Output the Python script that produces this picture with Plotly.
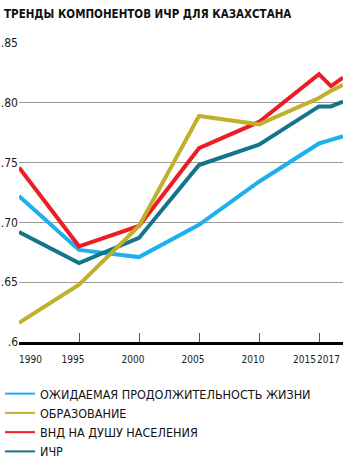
import plotly.graph_objects as go

# Kazakhstan HDI component indices
years = [1990, 1995, 2000, 2005, 2010, 2015, 2016, 2017]
life_expectancy = [0.722, 0.677, 0.671, 0.698, 0.734, 0.766, 0.769, 0.772]
education = [0.616, 0.648, 0.697, 0.789, 0.782, 0.804, 0.810, 0.815]
gni_per_capita = [0.746, 0.680, 0.697, 0.762, 0.784, 0.824, 0.814, 0.821]
hdi = [0.692, 0.666, 0.687, 0.748, 0.765, 0.797, 0.797, 0.801]

x_tick_years = [1990, 1995, 2000, 2005, 2010, 2015, 2017]
y_tick_vals = [0.6, 0.65, 0.70, 0.75, 0.80, 0.85]
y_tick_text = [".6", ".65", ".70", ".75", ".80", ".85"]

series = [
    ("ОЖИДАЕМАЯ ПРОДОЛЖИТЕЛЬНОСТЬ ЖИЗНИ", life_expectancy, "#1DB0EC"),
    ("ОБРАЗОВАНИЕ", education, "#C0B02C"),
    ("ВНД НА ДУШУ НАСЕЛЕНИЯ", gni_per_capita, "#EE1C25"),
    ("ИЧР", hdi, "#12758C"),
]

FONT = "Liberation Sans Narrow, DejaVu Sans Condensed, Arial Narrow, sans-serif"
X_RANGE = [years[0], years[-1]]
first_years = x_tick_years[:1]
mid_years = x_tick_years[1:-2]
last_years = x_tick_years[-2:]

fig = go.Figure()

# data lines (education drawn last so it sits on top)
draw_order = [0, 3, 2, 1]
for i in draw_order:
    name, vals, color = series[i]
    fig.add_trace(go.Scatter(
        x=years, y=vals, mode="lines", name=name,
        line=dict(color=color, width=4), showlegend=False,
        hoverinfo="skip",
    ))

# legend entries with thin sample lines
for name, vals, color in series:
    fig.add_trace(go.Scatter(
        x=[None], y=[None], mode="lines", name=name,
        line=dict(color=color, width=2), showlegend=True,
    ))

# empty traces so the edge-label axes are rendered
for ax in ("x2", "x3"):
    fig.add_trace(go.Scatter(x=[None], y=[None], xaxis=ax, yaxis="y",
                             showlegend=False, hoverinfo="skip"))

tick_font = dict(size=10, color="#1a1a1a")
label_axis = dict(
    overlaying="x", anchor="y", side="bottom", matches="x",
    ticks="", showline=False, showgrid=False, zeroline=False,
    tickangle=0, tickfont=tick_font, ticklabelstandoff=10,
    ticklabeloverflow="allow",
)

fig.update_layout(
    width=350, height=462,
    margin=dict(l=19, r=7, t=43, b=120, autoexpand=False),
    paper_bgcolor="white", plot_bgcolor="white",
    font=dict(family=FONT, color="#1a1a1a"),
    title=dict(
        text="ТРЕНДЫ КОМПОНЕНТОВ ИЧР ДЛЯ КАЗАХСТАНА",
        x=4 / 350, xref="container", xanchor="left",
        y=1 - 14 / 462, yref="container", yanchor="middle",
        font=dict(family=FONT, size=11.5, color="#111", weight=700),
    ),
    # main x axis: tick marks for every labelled year, labels for middle years
    xaxis=dict(
        range=X_RANGE, tickvals=x_tick_years,
        ticktext=[str(y) if y in mid_years else "" for y in x_tick_years],
        ticks="inside", ticklen=9, tickwidth=1, tickcolor="#555",
        showline=True, linecolor="#000", linewidth=3,
        showgrid=False, zeroline=False, tickangle=0,
        tickfont=tick_font,
        ticklabelshift=-6, ticklabelstandoff=6,
        ticklabeloverflow="allow",
    ),
    # first year label, set to the right of its tick
    xaxis2=dict(
        label_axis, tickvals=first_years, ticktext=[str(y) for y in first_years],
        ticklabelposition="outside right",
    ),
    # closing years' labels, set to the left of their ticks
    xaxis3=dict(
        label_axis, tickvals=last_years, ticktext=[str(y) for y in last_years],
        ticklabelposition="outside left", ticklabelshift=-3,
    ),
    yaxis=dict(
        range=[0.6, 0.85], tickvals=y_tick_vals, ticktext=y_tick_text,
        showgrid=True, gridcolor="#9a9a9a", gridwidth=1,
        zeroline=False, showline=False, ticks="",
        tickfont=dict(size=12, color="#1a1a1a"),
    ),
    legend=dict(
        xref="container", x=0, xanchor="left",
        yref="container", y=1 - 379 / 462, yanchor="top",
        orientation="v", bgcolor="rgba(0,0,0,0)",
        font=dict(family=FONT, size=12.5, color="#111"),
        tracegroupgap=0,
    ),
)

fig.write_html("out.html")
